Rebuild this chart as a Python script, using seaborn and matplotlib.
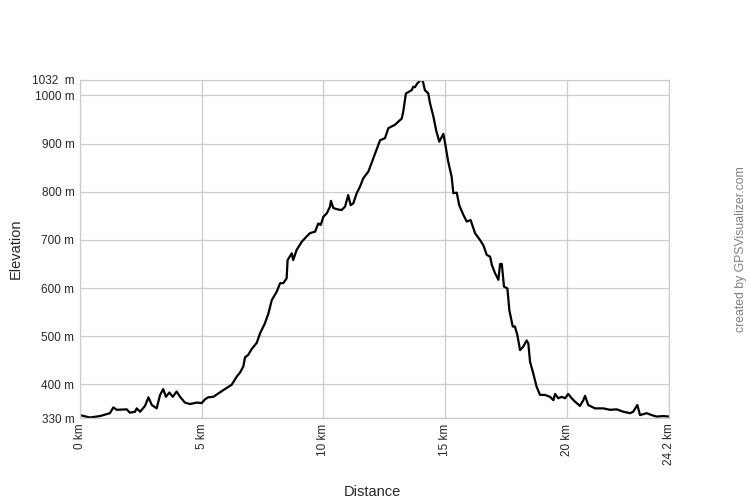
import pandas as pd
import matplotlib.pyplot as plt
import seaborn as sns

# Track profile (km, m)
distance_km = [0.00, 0.41, 0.82, 1.23, 1.37, 1.51, 1.92, 2.05, 2.26, 2.33, 2.47, 2.67, 2.81, 2.95,
               3.15, 3.29, 3.42, 3.53, 3.67, 3.81, 3.97, 4.11, 4.31, 4.52, 4.79, 5.00, 5.14, 5.27,
               5.48, 5.89, 6.23, 6.44, 6.57, 6.71, 6.78, 6.91, 7.05, 7.26, 7.40, 7.60, 7.74, 7.88,
               8.08, 8.22, 8.35, 8.49, 8.53, 8.70, 8.76, 8.90, 9.11, 9.31, 9.45, 9.66, 9.79, 9.89,
               10.00, 10.14, 10.27, 10.31, 10.41, 10.61, 10.75, 10.89, 11.02, 11.12, 11.23, 11.37,
               11.50, 11.64, 11.85, 12.05, 12.19, 12.33, 12.53, 12.67, 12.94, 13.22, 13.28, 13.39,
               13.63, 13.69, 13.76, 13.86, 14.00, 14.08, 14.17, 14.31, 14.38, 14.52, 14.63, 14.76,
               14.93, 15.00, 15.13, 15.27, 15.34, 15.48, 15.58, 15.75, 15.89, 16.05, 16.23, 16.43,
               16.57, 16.71, 16.85, 16.92, 17.05, 17.19, 17.26, 17.33, 17.42, 17.56, 17.64, 17.78,
               17.87, 17.97, 18.08, 18.21, 18.35, 18.42, 18.49, 18.62, 18.76, 18.90, 19.10, 19.31,
               19.45, 19.52, 19.65, 19.79, 19.93, 20.06, 20.20, 20.34, 20.54, 20.68, 20.75, 20.88,
               21.16, 21.50, 21.78, 22.05, 22.32, 22.60, 22.73, 22.90, 23.01, 23.28, 23.49, 23.69,
               23.97, 24.17, 24.20]
elevation_m = [336, 331, 334, 340, 352, 347, 348, 341, 343, 350, 343, 355, 373, 357,
               350, 378, 390, 374, 383, 374, 385, 374, 362, 359, 362, 361, 369, 373,
               374, 388, 399, 416, 424, 437, 456, 461, 473, 486, 506, 527, 547, 575,
               592, 610, 610, 620, 658, 672, 658, 679, 696, 707, 714, 717, 734, 731,
               748, 755, 769, 781, 766, 763, 762, 769, 793, 772, 776, 797,
               810, 828, 842, 869, 888, 907, 911, 932, 939, 952, 966, 1004,
               1011, 1018, 1017, 1025, 1032, 1031, 1011, 1004, 984, 956, 928, 904,
               920, 901, 862, 831, 797, 798, 772, 752, 738, 741, 714, 700,
               689, 669, 665, 648, 631, 617, 650, 650, 603, 599, 554, 520,
               520, 502, 471, 478, 491, 485, 447, 423, 395, 378, 378, 374,
               367, 380, 371, 374, 371, 380, 371, 364, 355, 367, 376, 357,
               350, 350, 347, 348, 343, 340, 343, 357, 336, 340, 336, 333,
               334, 333, 333]

y_ticks = [330, 400, 500, 600, 700, 800, 900, 1000, 1032]
y_labels = ["330 m", "400 m", "500 m", "600 m", "700 m", "800 m", "900 m", "1000 m", "1032  m"]
x_ticks = [0, 5, 10, 15, 20, 24.2]
x_labels = ["0 km", "5 km", "10 km", "15 km", "20 km", "24.2 km"]

df = pd.DataFrame({"Distance": distance_km, "Elevation": elevation_m})

sns.set_style("whitegrid")
plt.rcParams['font.family'] = ['Liberation Sans', 'DejaVu Sans']

fig = plt.figure(figsize=(7.49, 4.98), dpi=100)
ax = fig.add_axes([80 / 749, 80 / 498, 589 / 749, 338 / 498])

sns.lineplot(data=df, x="Distance", y="Elevation", color="black", linewidth=1.6, ax=ax)

ax.set_xlim(0, 24.2)
ax.set_ylim(330, 1032)
ax.set_xticks(x_ticks)
ax.set_xticklabels(x_labels, rotation=90, fontsize=8.5)
ax.set_yticks(y_ticks)
ax.set_yticklabels(y_labels, fontsize=8.5)
ax.tick_params(length=0, pad=4)
ax.grid(True, color="#cccccc", linewidth=0.9)
for s in ax.spines.values():
    s.set_color("#cccccc")
    s.set_linewidth(0.9)

ax.set_xlabel("Distance", fontsize=10.5)
ax.set_ylabel("Elevation", fontsize=10.5)
ax.xaxis.set_label_coords(0.497, -0.198)
ax.yaxis.set_label_coords(-0.098, 0.5)

fig.text(0.989, 0.5, "created by GPSVisualizer.com", rotation=90, color="#808080",
         fontsize=8.8, ha="center", va="center")

fig.savefig("out.png", dpi=100)
